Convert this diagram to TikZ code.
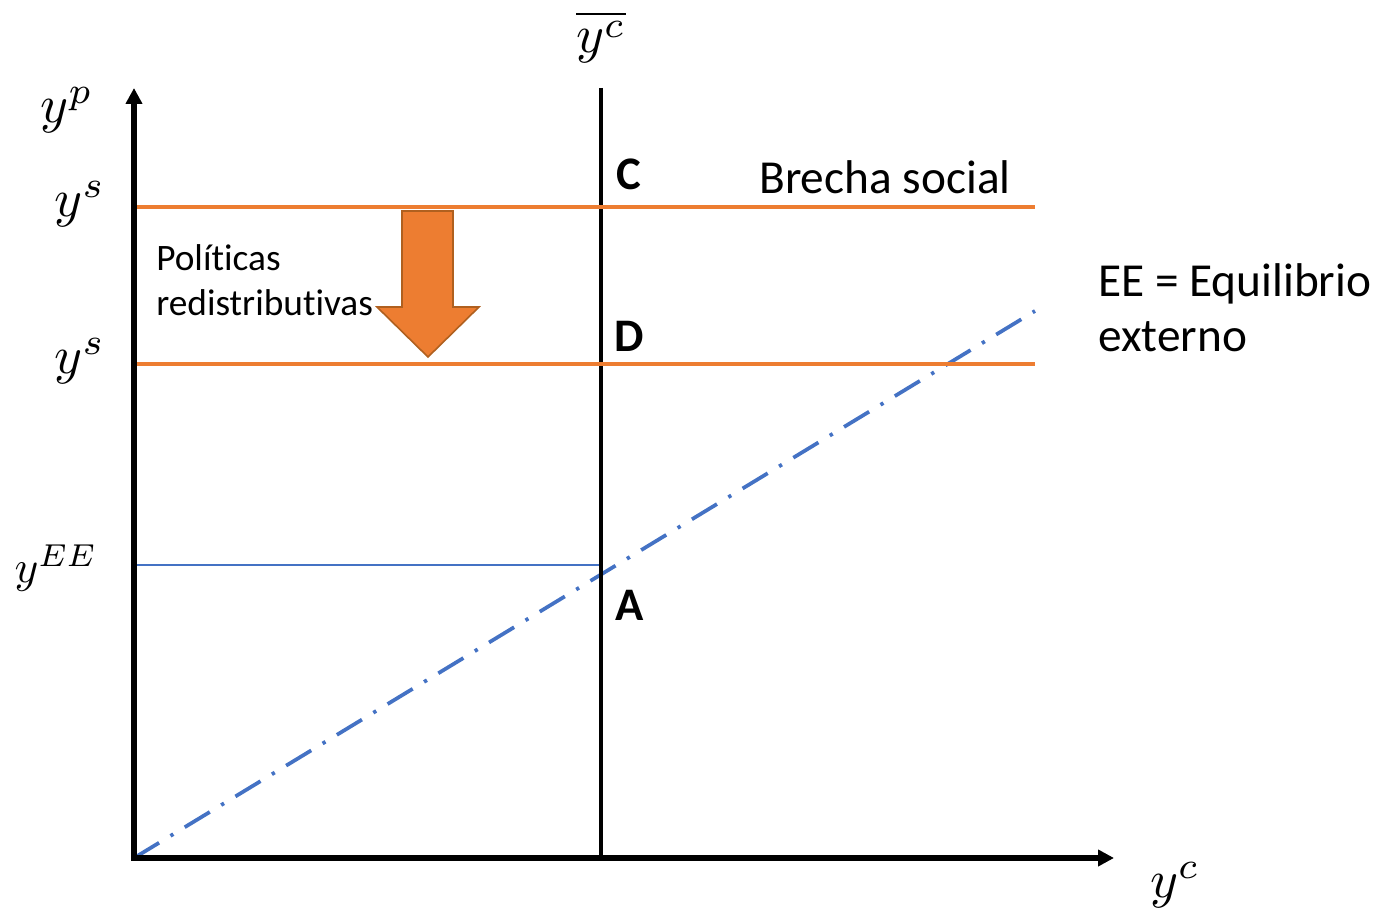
\documentclass[tikz,border=0pt]{standalone}
\usepackage{fontspec}
\setmainfont{Carlito}[Ligatures=NoCommon,Contextuals=NoAlternate]
\usetikzlibrary{arrows.meta}
\definecolor{eorange}{HTML}{ED7D31}
\definecolor{eorangedark}{HTML}{B0601F}
\definecolor{eblue}{HTML}{4472C4}
\begin{document}
\begin{tikzpicture}[x=0.75pt,y=-0.75pt,
  axis/.style={line width=4.2pt,-{Triangle[length=12pt,width=12pt]}},
  vline/.style={line width=2.9pt},
  orangeline/.style={line width=2.6pt,eorange},
  thinblue/.style={line width=1.1pt,eblue},
  eeline/.style={line width=2.8pt,eblue,dash pattern=on 22pt off 10pt on 2.5pt off 10pt},
  mlabel/.style={font=\fontsize{10}{12}\selectfont,inner sep=0pt,scale=4},
  ptlabel/.style={font=\fontsize{35}{40}\selectfont\bfseries,inner sep=0pt,anchor=base west},
  txt/.style={font=\fontsize{28}{34}\selectfont,inner sep=0pt,anchor=base west},
  bigtxt/.style={font=\fontsize{35.5}{42}\selectfont,inner sep=0pt,anchor=base west},
  bigarrow/.style={fill=eorange,draw=eorangedark,line width=1.2pt,line join=miter}
]
\useasboundingbox (0,0) rectangle (1382,912);
% key coordinates
\coordinate (O) at (134,858);
\coordinate (Ytop) at (134,88);
\coordinate (Xend) at (1114,858);
\coordinate (Vtop) at (601,88);
\coordinate (Vbot) at (601,858);
\coordinate (S1l) at (134,207);
\coordinate (S1r) at (1035,207);
\coordinate (S2l) at (134,364);
\coordinate (S2r) at (1035,364);
\coordinate (EEl) at (134,565);
\coordinate (EEr) at (601,565);
\coordinate (EEend) at (1035,311);
% lines
\draw[thinblue] (EEl) -- (EEr);
\draw[eeline] (O) -- (EEend);
\draw[vline] (Vtop) -- (Vbot);
\draw[orangeline] (S1l) -- (S1r);
\draw[orangeline] (S2l) -- (S2r);
\draw[axis] ([yshift=-2.1pt]O) -- (Ytop);
\draw[axis] ([xshift=-2.1pt]O) -- (Xend);
% big arrow
\draw[bigarrow] (402,211) -- (453,211) -- (453,307) -- (479,307) -- (428,357)
  -- (377,307) -- (402,307) -- cycle;
% math labels
\node[mlabel] (lyp) at (67,110) {$y^p$};
\node[mlabel] (lys1) at (80,204) {$y^s$};
\node[mlabel] (lys2) at (80,361) {$y^s$};
\node[mlabel,scale=0.85] (lyee) at (56,568) {$y^{EE}$};
\node[mlabel] (lycbar) at (601,37) {$\overline{y^c}$};
\node[mlabel] (lyc) at (1175,885) {$y^c$};
% point labels
\node[ptlabel] (C) at (616,190) {C};
\node[ptlabel] (D) at (614,352) {D};
\node[ptlabel] (A) at (615,620) {A};
% texts
\node[bigtxt] (brecha) at (759,194) {Brecha social};
\node[txt] (pol1) at (156,271) {Polít\kern0pt icas};
\node[txt] (pol2) at (156,316) {redistribut\kern0pt ivas};
\node[bigtxt] (ee1) at (1098,297) {EE = Equilibrio};
\node[bigtxt] (ee2) at (1098,352) {externo};
\end{tikzpicture}
\end{document}
